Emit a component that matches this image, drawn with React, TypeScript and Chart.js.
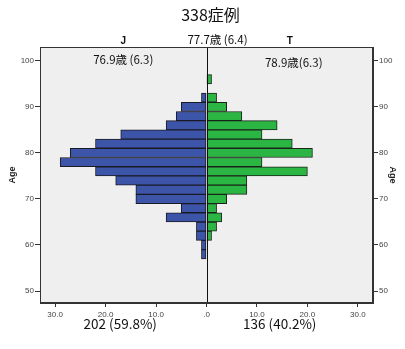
import React, { useEffect, useRef } from "react";
import { Chart, registerables } from "chart.js";

Chart.register(...registerables);

const ageBins = [96, 94, 92, 90, 88, 86, 84, 82, 80, 78, 76, 74, 72, 70, 68, 66, 64, 62, 60, 58];
const jCounts = [0, 0, 1, 5, 6, 8, 17, 22, 27, 29, 22, 18, 14, 14, 5, 8, 2, 2, 1, 1];
const tCounts = [1, 0, 2, 4, 7, 14, 11, 17, 21, 11, 20, 8, 8, 4, 2, 3, 2, 1, 0, 0];
const xTickValues = [-30, -20, -10, 0, 10, 20, 30];
const yTickValues = [50, 60, 70, 80, 90, 100];

const titleText = "338症例";
const overallText = "77.7歳 (6.4)";
const groupLabels = ["J", "T"];
const groupMeans = ["76.9歳 (6.3)", "78.9歳(6.3)"];
const groupTotals = ["202 (59.8%)", "136 (40.2%)"];

const CJK = '"Noto Sans CJK JP", "Noto Sans", sans-serif';
const TICK = '"Liberation Sans", Arial, sans-serif';

export default function App() {
  const ref = useRef<HTMLCanvasElement | null>(null);

  useEffect(() => {
    document.body.style.margin = "0";
    const canvas = ref.current;
    if (!canvas) return;

    const framePlugin = {
      id: "frame",
      beforeDraw(chart: any) {
        const { ctx, width, height, chartArea: a } = chart;
        ctx.save();
        ctx.fillStyle = "#ffffff";
        ctx.fillRect(0, 0, width, height);
        ctx.fillStyle = "#efefef";
        ctx.fillRect(a.left, a.top, a.right - a.left, a.bottom - a.top);
        ctx.restore();
      },
      afterDatasetsDraw(chart: any) {
        const { ctx, chartArea: a, scales } = chart;
        const x0 = Math.round(scales.x.getPixelForValue(0)) + 0.5;
        ctx.save();
        ctx.strokeStyle = "#111";
        ctx.lineWidth = 1;
        ctx.beginPath();
        ctx.moveTo(x0, a.top);
        ctx.lineTo(x0, a.bottom);
        ctx.stroke();
        ctx.strokeStyle = "#333";
        ctx.strokeRect(a.left + 0.5, a.top + 0.5, a.right - a.left - 1, a.bottom - a.top - 1);
        ctx.restore();
      },
      afterDraw(chart: any) {
        const { ctx, scales, chartArea: a } = chart;
        const xl = scales.x.getPixelForValue(-16.5);
        const xr = scales.x.getPixelForValue(16.5);
        const xc = scales.x.getPixelForValue(0);
        ctx.save();
        ctx.fillStyle = "#111";
        ctx.textBaseline = "middle";
        ctx.textAlign = "center";
        ctx.font = `16px ${CJK}`;
        ctx.fillText(titleText, xc + 4, 15);
        ctx.font = `11.5px ${CJK}`;
        ctx.fillText(overallText, xc + 11, 40);
        ctx.font = `bold 10px ${TICK}`;
        ctx.fillText(groupLabels[0], xl, 41);
        ctx.fillText(groupLabels[1], xr, 41);
        ctx.font = `11.5px ${CJK}`;
        ctx.fillText(groupMeans[0], xl, a.top + 13);
        ctx.fillText(groupMeans[1], xr + 4, a.top + 16);
        ctx.font = `13.5px ${CJK}`;
        ctx.fillText(groupTotals[0], xl - 3, 324);
        ctx.fillText(groupTotals[1], xr - 10, 324);
        ctx.restore();
      },
    };

    const yAxisCommon = (position: "left" | "right", width: number) => ({
      type: "linear" as const,
      position,
      min: 47.4,
      max: 103,
      offset: false,
      stacked: true,
      afterBuildTicks(scale: any) {
        scale.ticks = yTickValues.map((v) => ({ value: v }));
      },
      afterFit(scale: any) {
        scale.width = width;
      },
      grid: { display: true, offset: false, drawOnChartArea: false, tickLength: 5, tickColor: "#333" },
      border: { display: true, color: "#333" },
      ticks: { font: { family: TICK, size: 8 }, color: "#444", padding: 1 },
      title: {
        display: true,
        text: "Age",
        font: { family: TICK, size: 9, weight: "bold" as const },
        color: "#222",
        padding: { top: 7, bottom: 0 },
      },
    });

    const chart = new Chart(canvas, {
      type: "bar",
      data: {
        datasets: [
          {
            label: groupLabels[0],
            data: ageBins.map((a, i) => ({ x: jCounts[i] ? -jCounts[i] : null, y: a })) as any,
            backgroundColor: "#3d55a9",
            borderColor: "#1a1a24",
            borderWidth: 1,
            borderSkipped: false,
            barPercentage: 1,
            categoryPercentage: 1,
            yAxisID: "y",
          },
          {
            label: groupLabels[1],
            data: ageBins.map((a, i) => ({ x: tCounts[i] ? tCounts[i] : null, y: a })) as any,
            backgroundColor: "#2bb543",
            borderColor: "#1a241a",
            borderWidth: 1,
            borderSkipped: false,
            barPercentage: 1,
            categoryPercentage: 1,
            yAxisID: "y",
          },
        ],
      },
      options: {
        indexAxis: "y",
        animation: false,
        responsive: true,
        maintainAspectRatio: false,
        layout: { padding: { top: 47, bottom: 26, left: 0, right: 0 } },
        plugins: { legend: { display: false }, tooltip: { enabled: false }, title: { display: false } },
        scales: {
          x: {
            type: "linear",
            min: -33,
            max: 33,
            stacked: true,
            offset: false,
            afterBuildTicks(scale: any) {
              scale.ticks = xTickValues.map((v) => ({ value: v }));
            },
            afterFit(scale: any) {
              scale.height = 20;
            },
            grid: { display: true, offset: false, drawOnChartArea: false, tickLength: 4, tickColor: "#333" },
            border: { display: true, color: "#333" },
            ticks: {
              font: { family: TICK, size: 8 },
              color: "#444",
              padding: 3,
              maxRotation: 0,
              callback: (v: any) => (Number(v) === 0 ? ".0" : Math.abs(Number(v)).toFixed(1)),
            },
          },
          y: yAxisCommon("left", 40) as any,
          y2: yAxisCommon("right", 32) as any,
        },
      },
      plugins: [framePlugin],
    });

    return () => chart.destroy();
  }, []);

  return (
    <div style={{ position: "relative", width: 405, height: 349 }}>
      <canvas ref={ref} />
    </div>
  );
}
